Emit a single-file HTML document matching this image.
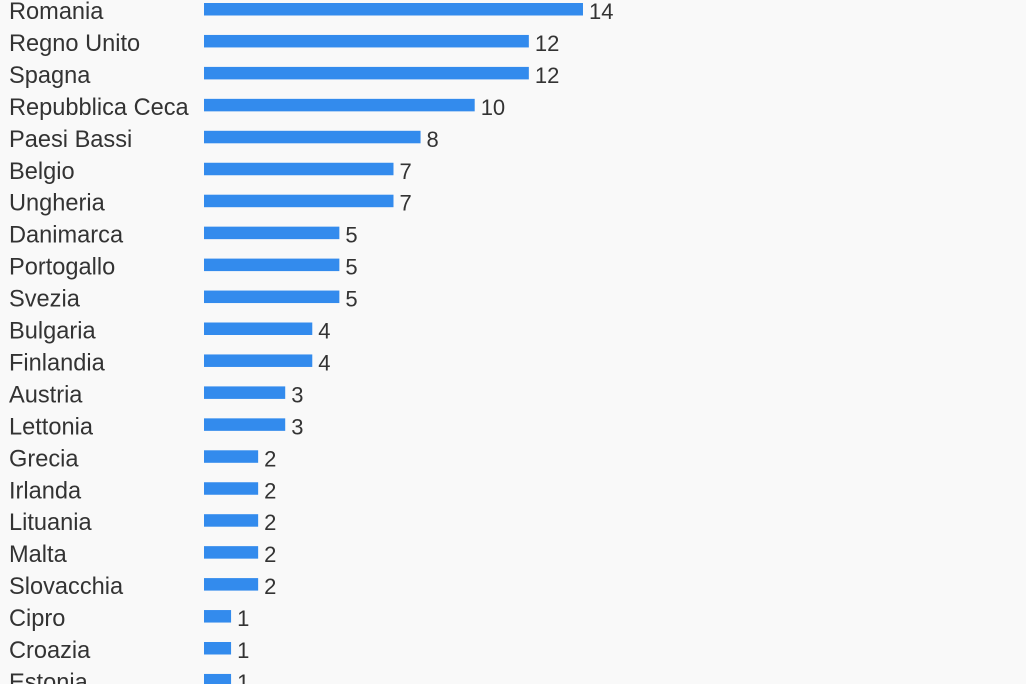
<!DOCTYPE html>
<html><head><meta charset="utf-8"><style>
html,body{margin:0;padding:0;background:#f9f9f9;}
svg{display:block;font-family:"Liberation Sans",sans-serif;}
</style></head><body>
<svg id="chart" width="1026" height="684" viewBox="0 0 1026 684"></svg>
<script>
const categories=["Romania","Regno Unito","Spagna","Repubblica Ceca","Paesi Bassi","Belgio","Ungheria","Danimarca","Portogallo","Svezia","Bulgaria","Finlandia","Austria","Lettonia","Grecia","Irlanda","Lituania","Malta","Slovacchia","Cipro","Croazia","Estonia"];
const values=[14,12,12,10,8,7,7,5,5,5,4,4,3,3,2,2,2,2,2,1,1,1];
const svg=document.getElementById('chart');
const NS='http://www.w3.org/2000/svg';
const x0=204, unit=27.07;
const xScale=v=>v*unit;
const yScale=i=>9+i*31.95;
categories.forEach((c,i)=>{
  const cy=yScale(i);
  const t=document.createElementNS(NS,'text');
  
  
  t.setAttribute('x',9);t.setAttribute('y',cy+10);
  t.setAttribute('font-size','23.6');t.setAttribute('fill','#333');
  t.textContent=c;svg.appendChild(t);
  const r=document.createElementNS(NS,'rect');
  
  
  r.setAttribute('x',x0);r.setAttribute('y',cy-6);
  r.setAttribute('width',xScale(values[i]));r.setAttribute('height',12.5);
  r.setAttribute('fill','#338bed');svg.appendChild(r);
  const v=document.createElementNS(NS,'text');
  
  
  v.setAttribute('x',x0+xScale(values[i])+6);v.setAttribute('y',cy+10);
  v.setAttribute('font-size','22');v.setAttribute('fill','#333');
  v.textContent=values[i];svg.appendChild(v);
});
</script>
</body></html>
